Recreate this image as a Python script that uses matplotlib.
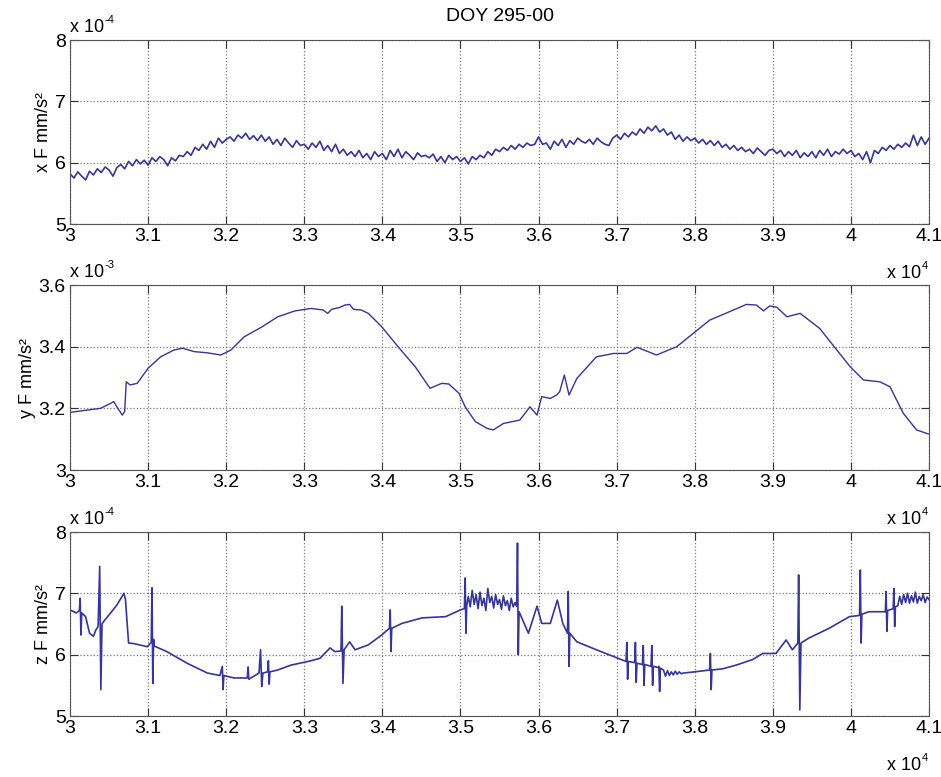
import matplotlib
matplotlib.use("Agg")
import matplotlib.pyplot as plt
from matplotlib.transforms import offset_copy

plt.rcParams['font.family'] = ['Liberation Sans', 'DejaVu Sans']

# ---- data (time in s, values in units of the axis exponent) ----
# x F, every 50 s from 30000 to 41000 (x 1e-4)
x_start, x_step = 30000, 50
xF = [5.82, 5.75, 5.85, 5.78, 5.72, 5.86, 5.80, 5.90, 5.84, 5.93,
      5.88, 5.78, 5.92, 5.97, 5.90, 6.02, 5.95, 6.05, 5.98, 6.04,
      5.96, 6.08, 6.02, 6.10, 6.05, 5.95, 6.08, 6.03, 6.12, 6.10,
      6.18, 6.12, 6.25, 6.20, 6.30, 6.22, 6.35, 6.25, 6.40, 6.32,
      6.38, 6.42, 6.35, 6.45, 6.40, 6.48, 6.38, 6.44, 6.36, 6.45,
      6.35, 6.42, 6.30, 6.38, 6.28, 6.40, 6.32, 6.25, 6.36, 6.28,
      6.30, 6.22, 6.32, 6.25, 6.35, 6.20, 6.28, 6.18, 6.30, 6.15,
      6.22, 6.12, 6.18, 6.10, 6.20, 6.08, 6.15, 6.05, 6.18, 6.10,
      6.15, 6.05, 6.20, 6.10, 6.22, 6.08, 6.18, 6.12, 6.05, 6.16,
      6.10, 6.12, 6.08, 6.14, 6.02, 6.10, 6.00, 6.12, 6.05, 6.10,
      6.02, 6.08, 5.98, 6.10, 6.05, 6.12, 6.08, 6.18, 6.12, 6.22,
      6.18, 6.25, 6.20, 6.28, 6.22, 6.30, 6.25, 6.32, 6.28, 6.30,
      6.42, 6.30, 6.32, 6.22, 6.35, 6.28, 6.38, 6.25, 6.36, 6.30,
      6.40, 6.35, 6.32, 6.38, 6.30, 6.40, 6.34, 6.30, 6.28, 6.40,
      6.45, 6.38, 6.48, 6.42, 6.50, 6.45, 6.55, 6.48, 6.58, 6.52,
      6.60, 6.50, 6.55, 6.45, 6.50, 6.38, 6.45, 6.35, 6.42, 6.36,
      6.40, 6.32, 6.38, 6.30, 6.36, 6.28, 6.35, 6.25, 6.30, 6.22,
      6.28, 6.20, 6.25, 6.18, 6.22, 6.15, 6.24, 6.18, 6.12, 6.20,
      6.22, 6.15, 6.20, 6.10, 6.18, 6.12, 6.20, 6.08, 6.16, 6.10,
      6.18, 6.08, 6.20, 6.12, 6.22, 6.10, 6.18, 6.14, 6.22, 6.15,
      6.20, 6.10, 6.15, 6.05, 6.18, 6.00, 6.20, 6.15, 6.25, 6.20,
      6.28, 6.22, 6.30, 6.25, 6.32, 6.26, 6.45, 6.28, 6.42, 6.30,
      6.40]
xF_t = [x_start + i * x_step for i in range(len(xF))]

# y F (x 1e-3)
yF_t = [30000, 30390, 30520, 30560, 30600, 30670, 30700, 30720, 30770, 30860,
        31000, 31160, 31330, 31440, 31590, 31760, 31930, 32060, 32230, 32450,
        32660, 32880, 33090, 33240, 33300, 33350, 33450, 33520, 33580, 33630,
        33730, 33820, 33990, 34200, 34420, 34610, 34760, 34850, 34980, 35060,
        35190, 35340, 35420, 35550, 35760, 35890, 35980, 36040, 36150, 36230,
        36270, 36330, 36390, 36490, 36740, 36960, 37130, 37260, 37510, 37770,
        37980, 38190, 38450, 38660, 38790, 38880, 38960, 39050, 39180, 39350,
        39600, 39820, 39990, 40160, 40370, 40500, 40670, 40840, 40990]
yF = [3.187, 3.200, 3.216, 3.222, 3.205, 3.178, 3.190, 3.286, 3.276, 3.281,
      3.330, 3.367, 3.389, 3.395, 3.384, 3.380, 3.373, 3.389, 3.432, 3.463,
      3.497, 3.516, 3.524, 3.519, 3.508, 3.521, 3.527, 3.535, 3.537, 3.521,
      3.519, 3.508, 3.465, 3.400, 3.335, 3.265, 3.281, 3.279, 3.249, 3.205,
      3.157, 3.135, 3.130, 3.151, 3.162, 3.205, 3.178, 3.238, 3.232, 3.243,
      3.254, 3.308, 3.243, 3.297, 3.367, 3.378, 3.378, 3.398, 3.373, 3.400,
      3.443, 3.486, 3.514, 3.537, 3.535, 3.516, 3.532, 3.528, 3.497, 3.508,
      3.459, 3.389, 3.335, 3.292, 3.286, 3.270, 3.184, 3.130, 3.117]

# z F (x 1e-4), spikes included as close pairs of points
zF_t = [30000, 30080, 30120, 30130, 30140, 30150, 30200, 30250, 30300, 30330,
        30360, 30380, 30395, 30410, 30430, 30520, 30600, 30690, 30710, 30750,
        30820, 30990, 31040, 31050, 31060, 31070, 31080, 31240, 31500, 31760,
        31920, 31950, 31960, 31970, 32100, 32270, 32280, 32290, 32420, 32440,
        32455, 32470, 32530, 32540, 32550, 32560, 32660, 32830, 33050, 33200,
        33330, 33390, 33470, 33480, 33495, 33510, 33580, 33650, 33820, 33990,
        34090, 34100, 34110, 34120, 34250, 34510, 34810, 35000, 35050, 35060,
        35070, 35080,
        35100, 35125, 35150, 35175, 35200, 35225, 35250, 35275, 35300, 35325,
        35350, 35375, 35400, 35425, 35450, 35475, 35500, 35525, 35550, 35575,
        35600, 35625, 35650, 35675, 35700,
        35720, 35730, 35740, 35750, 35870, 35980, 36040, 36150, 36240, 36310,
        36370, 36380, 36390, 36400, 36490, 36740, 36960, 37120, 37130, 37140,
        37150, 37230, 37240, 37250, 37260, 37330, 37340, 37350, 37360, 37440,
        37450, 37460, 37470, 37530, 37540, 37550, 37560,
        37600, 37625, 37650, 37675, 37700, 37725, 37750, 37775, 37800, 37825,
        37850, 38000, 38190, 38200, 38210, 38220, 38360, 38530, 38740, 38870,
        39040, 39170, 39250, 39320, 39330, 39345, 39360, 39460, 39720, 39980,
        40110, 40120, 40130, 40140, 40230, 40440, 40450, 40460, 40470, 40540,
        40550, 40560, 40570,
        40600, 40625, 40650, 40675, 40700, 40725, 40750, 40775, 40800, 40825,
        40850, 40875, 40900, 40925, 40950, 40975, 41000]
zF = [6.73, 6.68, 6.72, 6.92, 6.32, 6.68, 6.62, 6.35, 6.30, 6.40,
      6.46, 7.44, 5.43, 6.50, 6.54, 6.68, 6.81, 7.00, 6.90, 6.19,
      6.18, 6.13, 6.20, 7.09, 5.53, 6.25, 6.14, 6.05, 5.86, 5.70,
      5.66, 5.81, 5.43, 5.66, 5.62, 5.62, 5.80, 5.60, 5.70, 6.08,
      5.48, 5.70, 5.72, 5.90, 5.52, 5.72, 5.75, 5.83, 5.89, 5.94,
      6.11, 6.05, 6.06, 6.79, 5.53, 6.08, 6.21, 6.08, 6.16, 6.32,
      6.43, 6.73, 6.05, 6.43, 6.51, 6.60, 6.62, 6.73, 6.75, 7.25,
      6.35, 6.80,
      6.95, 6.78, 7.05, 6.82, 6.98, 6.75, 7.02, 6.80, 6.92, 6.72,
      7.08, 6.85, 6.95, 6.76, 6.98, 6.82, 6.90, 6.74, 6.96, 6.80,
      6.88, 6.72, 6.92, 6.78, 6.85,
      6.79, 7.82, 6.00, 6.70, 6.35, 6.79, 6.51, 6.51, 6.89, 6.51,
      6.35, 7.03, 5.81, 6.35, 6.21, 6.08, 5.97, 5.89, 6.20, 5.60,
      5.89, 5.87, 6.20, 5.55, 5.86, 5.84, 6.15, 5.50, 5.84, 5.81,
      6.15, 5.50, 5.81, 5.79, 5.81, 5.40, 5.78,
      5.75, 5.65, 5.74, 5.66, 5.72, 5.67, 5.73, 5.68, 5.72, 5.69,
      5.70, 5.72, 5.75, 6.02, 5.43, 5.75, 5.77, 5.83, 5.92, 6.02,
      6.02, 6.24, 6.08, 6.19, 7.30, 5.10, 6.19, 6.27, 6.43, 6.62,
      6.64, 7.38, 6.19, 6.66, 6.70, 6.70, 7.03, 6.38, 6.72, 6.75,
      7.08, 6.46, 6.78,
      6.80, 6.95, 6.82, 6.98, 6.85, 7.00, 6.84, 6.96, 6.86, 7.02,
      6.84, 6.95, 6.88, 6.98, 6.85, 6.94, 6.90]

series = [(xF_t, xF), (yF_t, yF), (zF_t, zF)]
ylabels = ['x F mm/s\u00b2', 'y F mm/s\u00b2', 'z F mm/s\u00b2']
yticks = [[5, 6, 7, 8], [3.0, 3.2, 3.4, 3.6], [5, 6, 7, 8]]
yticklabels = [['5', '6', '7', '8'], ['3', '3.2', '3.4', '3.6'], ['5', '6', '7', '8']]
yexp = ['-4', '-3', '-4']
xticks = [30000 + 1000 * i for i in range(12)]
xticklabels = ['3', '3.1', '3.2', '3.3', '3.4', '3.5', '3.6', '3.7', '3.8', '3.9', '4', '4.1']

fig = plt.figure(figsize=(9.41, 7.77), dpi=100)
# axes boxes in figure fractions
boxes = [[0.0744, 0.7117, 0.9129, 0.2368],
         [0.0744, 0.3951, 0.9129, 0.2381],
         [0.0744, 0.0785, 0.9129, 0.2368]]

line_col = '#35359a'
for i in range(3):
    ax = fig.add_axes(boxes[i])
    t, v = series[i]
    ax.plot(t, v, color=line_col, lw=1.2 if i != 1 else 1.0)
    ax.set_xlim(30000, 41000)
    ax.set_ylim(yticks[i][0], yticks[i][-1])
    ax.set_xticks(xticks)
    ax.set_xticklabels(xticklabels)
    ax.set_yticks(yticks[i])
    ax.set_yticklabels(yticklabels[i])
    ax.tick_params(direction='in', top=True, right=True, labelsize=14,
                   length=6, color='#333333', pad=3)
    ax.grid(True, linestyle=':', color='#777777', lw=0.9)
    for s in ax.spines.values():
        s.set_color('#555555')
    ax.set_ylabel(ylabels[i], fontsize=13, labelpad=2)
    # exponent labels, matlab style
    tr = offset_copy(ax.transAxes, fig=fig, x=0, y=4, units='dots')
    ax.text(0, 1, 'x 10', transform=tr, ha='left', va='bottom', fontsize=13)
    tr_e = offset_copy(ax.transAxes, fig=fig, x=34, y=15, units='dots')
    ax.text(0, 1, yexp[i], transform=tr_e, ha='left', va='bottom', fontsize=8)
    tr2 = offset_copy(ax.transAxes, fig=fig, x=-8, y=-41, units='dots')
    ax.text(1, 0, 'x 10', transform=tr2, ha='right', va='top', fontsize=13)
    tr3 = offset_copy(ax.transAxes, fig=fig, x=-7, y=-37, units='dots')
    ax.text(1, 0, '4', transform=tr3, ha='left', va='top', fontsize=8)
    if i == 0:
        ax.set_title('DOY 295-00', fontsize=14, pad=14)

fig.savefig('out.png', dpi=100)
